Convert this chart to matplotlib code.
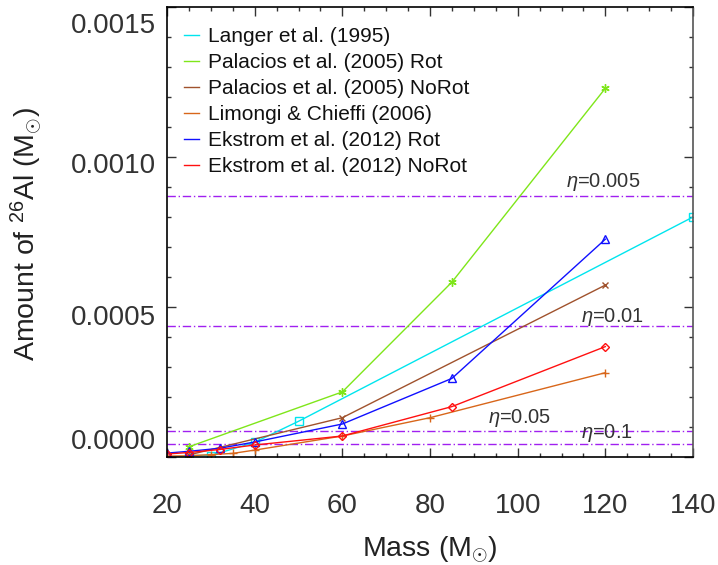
import matplotlib
matplotlib.use("Agg")
import matplotlib.pyplot as plt
from matplotlib.transforms import ScaledTranslation

plt.rcParams['font.family'] = ['Liberation Sans', 'DejaVu Sans']
plt.rcParams['mathtext.fontset'] = 'custom'
plt.rcParams['mathtext.rm'] = 'Liberation Sans'
plt.rcParams['mathtext.it'] = 'Liberation Sans:italic'

# Data
langer_m = [25, 30, 40, 50, 140]
langer_al = [0.000005, 0.000005, 0.000049, 0.000119, 0.000800]

pal_rot_m = [25, 60, 85, 120]
pal_rot_al = [0.000034, 0.000217, 0.000583, 0.001229]

pal_norot_m = [25, 60, 120]
pal_norot_al = [0.000007, 0.000131, 0.000573]

lc_m = [20, 25, 30, 35, 40, 60, 80, 120]
lc_al = [0.000003, 0.000004, 0.000008, 0.000012, 0.000023, 0.000070, 0.000131, 0.000281]

ek_rot_m = [20, 25, 32, 40, 60, 85, 120]
ek_rot_al = [0.000013, 0.000019, 0.000029, 0.000050, 0.000110, 0.000262, 0.000726]

ek_norot_m = [20, 25, 32, 40, 60, 85, 120]
ek_norot_al = [0.000010, 0.000015, 0.000025, 0.000040, 0.000070, 0.000168, 0.000368]

eta_vals = [0.005, 0.01, 0.05, 0.1]
eta_levels = [0.000870, 0.000437, 0.0000867, 0.0000433]
eta_labels = [r'$\eta$=0.005', r'$\eta$=0.01', r'$\eta$=0.05', r'$\eta$=0.1']
eta_label_x = [111.0, 114.5, 93.2, 114.5]
eta_label_y = [0.000918, 0.000468, 0.000130, 0.0000800]

xticks = [20, 40, 60, 80, 100, 120, 140]
yticks = [0.0, 0.0005, 0.0010, 0.0015]
ytick_labels = ['0.0000', '0.0005', '0.0010', '0.0015']

fig = plt.figure(figsize=(7.18, 5.65), dpi=100)
ax = fig.add_axes([167/718, 1-457/565, 526/718, 450/565])

purple = '#a020f0'
for lev in eta_levels:
    ax.axhline(lev, color=purple, lw=1.0, ls=(0, (6, 2, 1, 2)))
for lab, lx, ly in zip(eta_labels, eta_label_x, eta_label_y):
    ax.text(lx, ly, lab, fontsize=14.5, color='#333333', ha='left', va='center')

ms = 5
ax.plot(langer_m, langer_al, color='#00e5ee', lw=1, marker='s', ms=ms+1, mfc='none', mew=1, label='Langer et al. (1995)')
ax.plot(pal_rot_m, pal_rot_al, color='#7fe61a', lw=1, marker=(6, 2, 0), ms=ms+1, mew=1, label='Palacios et al. (2005) Rot')
ax.plot(pal_norot_m, pal_norot_al, color='#a0522d', lw=1, marker='x', ms=ms, mew=1, label='Palacios et al. (2005) NoRot')
ax.plot(lc_m, lc_al, color='#d8661a', lw=1, marker='+', ms=ms+1, mew=1, label='Limongi & Chieffi (2006)')
ax.plot(ek_rot_m, ek_rot_al, color='#1010ff', lw=1, marker='^', ms=ms+1, mfc='none', mew=1, label='Ekstrom et al. (2012) Rot')
ax.plot(ek_norot_m, ek_norot_al, color='#ff1010', lw=1, marker='D', ms=ms-0.5, mfc='none', mew=1, label='Ekstrom et al. (2012) NoRot')

ax.set_xlim(20, 140)
ax.set_ylim(0, 0.0015)
ax.set_xticks(xticks)
ax.set_xticks(list(range(20, 141, 5)), minor=True)
ax.set_yticks(yticks)
ax.set_yticklabels(ytick_labels)
ax.set_yticks([i * 0.0001 for i in range(16)], minor=True)

ax.tick_params(axis='both', which='both', direction='in', top=True, right=True, colors='#333333', labelcolor='#333333')
ax.tick_params(axis='both', which='major', length=6.5, width=1, labelsize=20)
ax.tick_params(axis='both', which='minor', length=3.2, width=1)
ax.tick_params(axis='x', which='major', pad=26)
ax.tick_params(axis='y', which='major', pad=8)

offsets = [-18, 8, 6, 16]
for lbl, dy in zip(ax.get_yticklabels(), offsets):
    lbl.set_transform(lbl.get_transform() + ScaledTranslation(0, -dy/100, fig.dpi_scale_trans))

for s in ax.spines.values():
    s.set_linewidth(1.2)
    s.set_color('black')
ax.spines['right'].set_color('#555555')

ax.set_xlabel(r'Mass (M$_{\odot}$)', fontsize=20.5, color='#222222')
ax.xaxis.set_label_coords(0.5, -0.171)
ax.set_ylabel(r'Amount of $^{26}$Al (M$_{\odot}$)', fontsize=20.5, color='#222222')
ax.yaxis.set_label_coords(-0.234, 0.496)

leg = ax.legend(loc='upper left', frameon=False, fontsize=15.0, handlelength=0.73,
                handletextpad=0.43, labelspacing=0.33, borderaxespad=0.3,
                bbox_to_anchor=(0.005, 0.987))
for h in leg.legend_handles:
    h.set_marker('')
for t in leg.get_texts():
    t.set_color('#111111')

fig.savefig('out.png', dpi=100)
